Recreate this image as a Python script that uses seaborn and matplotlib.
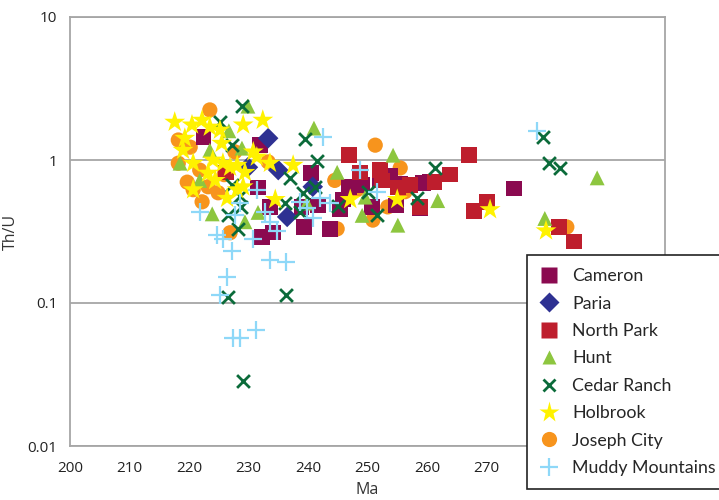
import matplotlib
matplotlib.use("Agg")
import matplotlib.pyplot as plt
import seaborn as sns
import pandas as pd
from matplotlib.lines import Line2D
from matplotlib.ticker import FixedLocator, FixedFormatter, NullLocator

# Detrital zircon ages (Ma) and Th/U ratios by formation / locality
cameron_age = [222.4, 231.9, 231.6, 233.6, 234.1, 232.3, 239.3, 240.5, 241.7, 243.7,
               245.4, 245.9, 246.9, 249.1, 250.8, 252.1, 253.9, 254.8, 255.5, 258.8,
               259.3, 260.5, 274.6, 238.9]
cameron_thu = [1.45, 1.27, 0.64, 0.47, 0.31, 0.29, 0.34, 0.81, 0.48, 0.33,
               0.45, 0.53, 0.65, 0.67, 0.47, 0.72, 0.77, 0.48, 0.68, 0.46,
               0.69, 0.70, 0.63, 0.47]

paria_age = [233.3, 229.9, 235.0, 236.5, 240.8]
paria_thu = [1.42, 0.89, 0.85, 0.40, 0.65]

northpark_age = [246.9, 248.7, 252.1, 252.4, 255.1, 258.8, 261.3, 263.9, 267.1, 267.9,
                 270.1, 282.2, 284.7, 257.1, 226.2]
northpark_thu = [1.08, 0.82, 0.85, 0.72, 0.64, 0.47, 0.70, 0.79, 1.08, 0.44,
                 0.51, 0.34, 0.27, 0.67, 0.82]

hunt_age = [229.9, 226.7, 228.9, 223.5, 218.5, 221.8, 223.9, 229.4, 231.6, 239.8,
            241.0, 244.9, 254.3, 249.1, 255.1, 261.8, 279.8, 288.6, 249.6]
hunt_thu = [2.38, 1.60, 1.21, 1.17, 0.95, 0.72, 0.42, 0.37, 0.43, 0.50,
            1.67, 0.82, 1.08, 0.41, 0.35, 0.52, 0.39, 0.75, 0.55]

cedar_age = [228.9, 225.2, 227.2, 239.5, 241.5, 237.0, 227.2, 228.6, 228.7, 226.6,
             228.2, 236.1, 238.7, 241.2, 239.2, 245.0, 250.1, 251.6, 258.3, 261.3,
             226.6, 236.3, 229.1, 279.5, 280.5, 282.4]
cedar_thu = [2.38, 1.84, 1.27, 1.40, 0.98, 0.75, 0.67, 0.56, 0.47, 0.41,
             0.33, 0.50, 0.43, 0.65, 0.59, 0.48, 0.60, 0.41, 0.54, 0.88,
             0.110, 0.114, 0.0285, 1.45, 0.95, 0.88]

holbrook_age = [217.6, 220.5, 222.2, 223.5, 225.2, 229.1, 232.4, 219.3, 225.5, 219.0,
                220.7, 224.0, 225.7, 226.9, 228.1, 230.8, 231.4, 233.6, 237.5, 223.2,
                229.4, 224.4, 220.7, 228.1, 229.1, 226.4, 234.5, 247.1, 255.0, 270.6,
                280.0]
holbrook_thu = [1.84, 1.76, 1.90, 1.70, 1.62, 1.76, 1.90, 1.42, 1.31, 1.17,
                0.95, 1.00, 0.95, 0.89, 0.92, 1.14, 1.05, 0.95, 0.92, 0.81,
                0.82, 0.72, 0.62, 0.62, 0.65, 0.54, 0.53, 0.53, 0.53, 0.45,
                0.32]

joseph_age = [223.5, 218.2, 220.2, 218.2, 219.7, 220.7, 222.2, 223.2, 224.9, 227.7,
              233.3, 226.9, 244.5, 248.2, 251.3, 255.5, 256.3, 253.4, 250.9, 244.9,
              283.5, 221.8, 225.9]
joseph_thu = [2.24, 1.38, 1.23, 0.95, 0.70, 0.62, 0.51, 0.65, 0.59, 1.14,
              0.97, 0.31, 0.72, 0.62, 1.27, 0.88, 0.60, 0.47, 0.38, 0.33,
              0.34, 0.85, 0.79]

muddy_age = [278.5, 242.5, 248.7, 251.6, 242.0, 243.7, 239.8, 240.8, 238.7, 231.4,
             228.6, 227.7, 232.8, 233.6, 234.8, 230.8, 227.2, 224.7, 225.7, 221.8,
             226.4, 225.2, 227.4, 228.6, 231.3, 233.6, 236.3]
muddy_thu = [1.60, 1.45, 0.85, 0.60, 0.54, 0.50, 0.46, 0.39, 0.51, 0.62,
             0.50, 0.41, 0.43, 0.37, 0.32, 0.28, 0.23, 0.30, 0.28, 0.43,
             0.152, 0.114, 0.057, 0.057, 0.065, 0.200, 0.194]

# Ticks run to 300 Ma; the labels past 270 sit under the legend box
x_ticks = [200, 210, 220, 230, 240, 250, 260, 270, 280, 290, 300]
x_tick_labels = ["200", "210", "220", "230", "240", "250", "260", "270", "", "", ""]
y_ticks = [0.01, 0.1, 1, 10]
y_tick_labels = ["0.01", "0.1", "1", "10"]

series = [
    # name, ages, ratios, marker, colour, size, line width
    ("Cameron", cameron_age, cameron_thu, "s", "#8B0A50", 125, 0),
    ("Paria", paria_age, paria_thu, "D", "#2E3192", 110, 0),
    ("North Park", northpark_age, northpark_thu, "s", "#BE1E2D", 125, 0),
    ("Hunt", hunt_age, hunt_thu, "^", "#8DC63F", 115, 0),
    ("Cedar Ranch", cedar_age, cedar_thu, "x", "#0B6B3A", 85, 2.0),
    ("Holbrook", holbrook_age, holbrook_thu, "*", "#FFF200", 250, 0),
    ("Joseph City", joseph_age, joseph_thu, "o", "#F7941D", 120, 0),
    ("Muddy Mountains", muddy_age, muddy_thu, "+", "#8ED8F8", 170, 1.6),
]
draw_order = ["Joseph City", "Cameron", "Paria", "North Park", "Hunt",
              "Cedar Ranch", "Holbrook", "Muddy Mountains"]

frames = []
for name, ages, ratios, *_ in series:
    frames.append(pd.DataFrame({"Ma": ages, "Th/U": ratios, "Locality": name}))
df = pd.concat(frames, ignore_index=True)

sns.set_style("white")
plt.rcParams["font.family"] = ["Open Sans", "DejaVu Sans"]

fig = plt.figure(figsize=(7.19, 5.0), dpi=100)
ax = fig.add_axes([70 / 719, 54 / 500, 595 / 719, 429 / 500])

style = {s[0]: s for s in series}
for z, name in enumerate(draw_order):
    _, _, _, marker, colour, size, lw = style[name]
    sub = df[df["Locality"] == name]
    kw = dict(edgecolor="none") if lw == 0 else dict(linewidths=lw)
    sns.scatterplot(data=sub, x="Ma", y="Th/U", marker=marker, color=colour,
                    s=size, ax=ax, zorder=3 + z, legend=False, **kw)

ax.set_yscale("log")
ax.set_xlim(200, 300)
ax.set_ylim(0.01, 10)
ax.xaxis.set_major_locator(FixedLocator(x_ticks))
ax.xaxis.set_major_formatter(FixedFormatter(x_tick_labels))
ax.yaxis.set_major_locator(FixedLocator(y_ticks))
ax.yaxis.set_major_formatter(FixedFormatter(y_tick_labels))
ax.yaxis.set_minor_locator(NullLocator())

grey = "#A6A6A6"
ax.grid(axis="y", color=grey, linewidth=1.3)
ax.grid(axis="x", visible=False)
ax.set_axisbelow(True)
for sp in ax.spines.values():
    sp.set_color(grey)
    sp.set_linewidth(1.3)
ax.tick_params(axis="both", which="major", direction="out", length=5, width=1.2,
               color=grey, labelsize=11, labelcolor="#222222", pad=4)
ax.tick_params(axis="x", pad=6)

ax.set_xlabel("Ma", fontsize=11.5, color="#333333", labelpad=4)
ax.set_ylabel("Th/U", fontsize=11.5, color="#333333", labelpad=6)

# Legend entries in series order, boxed over the lower right corner
handles = []
for name, _, _, marker, colour, size, lw in series:
    ms = (size ** 0.5)
    if lw == 0:
        h = Line2D([], [], linestyle="none", marker=marker, markersize=ms,
                   markerfacecolor=colour, markeredgecolor="none")
    else:
        h = Line2D([], [], linestyle="none", marker=marker, markersize=ms,
                   color=colour, markeredgewidth=lw)
    handles.append(h)
leg = ax.legend(handles, [s[0] for s in series], loc="upper left",
                bbox_to_anchor=(527 / 719, 1 - 255 / 500),
                bbox_transform=fig.transFigure, frameon=True, fancybox=False,
                framealpha=1.0, facecolor="white",
                prop={"family": ["Lato", "DejaVu Sans"], "size": 12.8},
                labelspacing=0.64, handlelength=1.0, handletextpad=0.8,
                borderpad=0.75, borderaxespad=0)
leg.get_frame().set_edgecolor("#222222")
leg.get_frame().set_linewidth(1.2)
leg.set_zorder(20)

fig.savefig("out.png", dpi=100)
